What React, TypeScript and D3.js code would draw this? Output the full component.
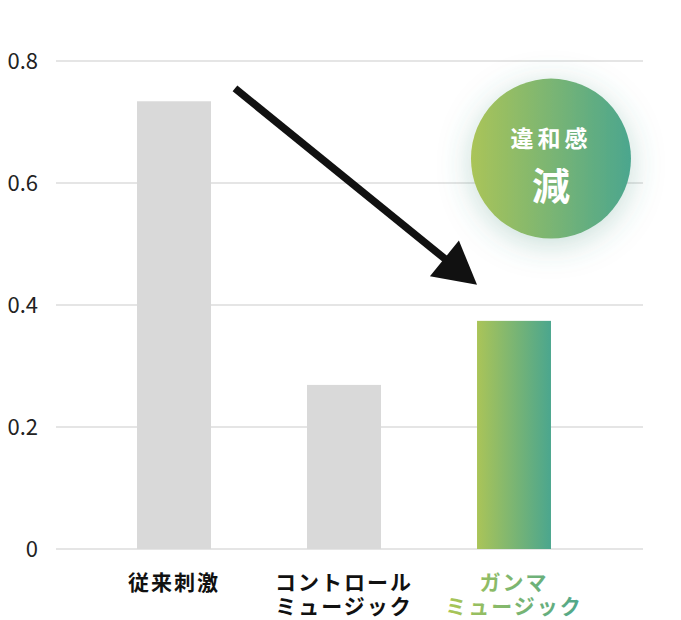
import React from 'react';
import * as d3 from 'd3';

// chart data
const categories = ['従来刺激', 'コントロール\nミュージック', 'ガンマ\nミュージック'];
const values = [0.734, 0.269, 0.374];
const yTicks = [0, 0.2, 0.4, 0.6, 0.8];
const yTickLabels = ['0', '0.2', '0.4', '0.6', '0.8'];
const badgeLines = ['違和感', '減'];

const width = 681;
const height = 620;
const font = '"Noto Sans CJK JP", "Noto Sans", sans-serif';

const App: React.FC = () => {
  const x = d3.scaleBand<string>()
    .domain(categories)
    .range([89, 599])
    .paddingInner(0.565)
    .paddingOuter(0.2825);

  const y = d3.scaleLinear()
    .domain([0, 0.8])
    .range([549, 61]);

  const bw = x.bandwidth();

  // arrow from the first bar down to the gamma bar
  const start: [number, number] = [(x(categories[0]) || 0) + bw + 24, y(0.755)];
  const tip: [number, number] = [x(categories[2]) || 0, y(0.433)];
  const dx = tip[0] - start[0];
  const dy = tip[1] - start[1];
  const len = Math.sqrt(dx * dx + dy * dy);
  const ux = dx / len;
  const uy = dy / len;
  const headLen = 42;
  const headHalf = 23;
  const base: [number, number] = [tip[0] - ux * headLen, tip[1] - uy * headLen];
  const headPts = [
    tip,
    [base[0] - uy * headHalf, base[1] + ux * headHalf],
    [base[0] + uy * headHalf, base[1] - ux * headHalf]
  ];
  const lineEnd: [number, number] = [tip[0] - ux * (headLen - 4), tip[1] - uy * (headLen - 4)];

  const cx = (x(categories[2]) || 0) + bw;
  const cy = y(0.64);

  return (
    <svg
      width={width}
      height={height}
      style={{ position: 'absolute', left: 0, top: 0, display: 'block' }}
    >
      <defs>
        <linearGradient id="greenBar" x1="0" x2="1" y1="0" y2="0">
          <stop offset="0%" stopColor="#aac458" />
          <stop offset="100%" stopColor="#4ba68e" />
        </linearGradient>
        <linearGradient id="greenText" gradientUnits="userSpaceOnUse" x1={439} x2={589} y1={0} y2={0}>
          <stop offset="0%" stopColor="#b0c752" />
          <stop offset="100%" stopColor="#4aa58e" />
        </linearGradient>
        <filter id="glow" x="-60%" y="-60%" width="220%" height="220%">
          <feDropShadow dx="0" dy="6" stdDeviation="16" floodColor="#3f8f7a" floodOpacity="0.3" />
        </filter>
      </defs>

      {/* gridlines */}
      {yTicks.map(t => (
        <line key={t} x1={56} x2={643} y1={y(t)} y2={y(t)} stroke="#dcdcdc" strokeWidth={1.5} />
      ))}

      {/* y labels */}
      {yTicks.map((t, i) => (
        <text
          key={'l' + t}
          x={38}
          y={y(t)}
          dy="0.35em"
          textAnchor="end"
          fontFamily={font}
          fontSize={22}
          fill="#222"
        >
          {yTickLabels[i]}
        </text>
      ))}

      {/* bars */}
      {categories.map((c, i) => (
        <rect
          key={c}
          x={x(c)}
          y={y(values[i])}
          width={bw}
          height={y(0) - y(values[i])}
          fill={i === 2 ? 'url(#greenBar)' : '#d9d9d9'}
        />
      ))}

      {/* x labels */}
      {categories.map((c, i) => {
        const lines = c.split('\n');
        const cxl = (x(c) || 0) + bw / 2;
        return (
          <text
            key={'x' + i}
            x={cxl}
            textAnchor="middle"
            fontFamily={font}
            fontWeight={700}
            fontSize={21}
            letterSpacing={2}
            fill={i === 2 ? 'url(#greenText)' : '#111'}
          >
            {lines.map((ln, j) => (
              <tspan key={j} x={cxl} y={590 + j * 24}>{ln}</tspan>
            ))}
          </text>
        );
      })}

      {/* arrow */}
      <line
        x1={start[0]}
        y1={start[1]}
        x2={lineEnd[0]}
        y2={lineEnd[1]}
        stroke="#111"
        strokeWidth={7.5}
      />
      <polygon points={headPts.map(p => p.join(',')).join(' ')} fill="#111" />

      {/* badge */}
      <circle cx={cx} cy={cy} r={80} fill="url(#greenBar)" filter="url(#glow)" />
      <text
        x={cx}
        y={cy - 20}
        dy="0.35em"
        textAnchor="middle"
        fontFamily={font}
        fontWeight={700}
        fontSize={23}
        letterSpacing={4}
        fill="#fff"
      >
        {badgeLines[0]}
      </text>
      <text
        x={cx}
        y={cy + 28}
        dy="0.35em"
        textAnchor="middle"
        fontFamily={font}
        fontWeight={700}
        fontSize={38}
        fill="#fff"
      >
        {badgeLines[1]}
      </text>
    </svg>
  );
};

export default App;
